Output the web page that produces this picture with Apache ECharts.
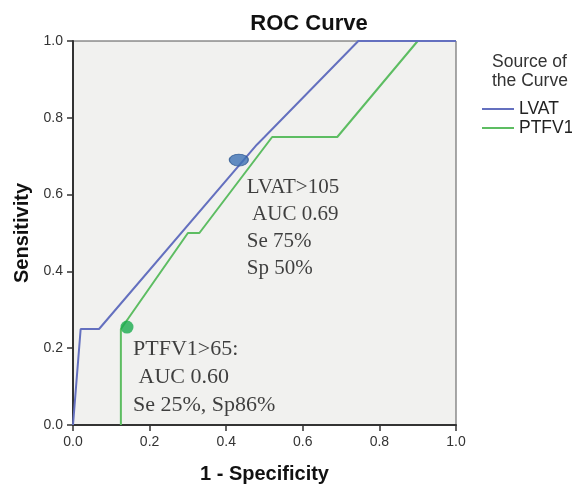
<!DOCTYPE html>
<html>
<head>
<meta charset="utf-8">
<script src="https://cdn.jsdelivr.net/npm/echarts@6/dist/echarts.min.js"></script>
<style>html,body{margin:0;padding:0;background:#fff;}</style>
</head>
<body>
<div id="roc_con" style="width:572px;height:485px;"></div>
<script>
    // ROC points: [1 - specificity, sensitivity]
    var lvat = [[0, 0], [0.02, 0.25], [0.068, 0.25], [0.48, 0.73], [0.5, 0.75], [0.745, 1.0], [1, 1]];
    var ptfv1 = [[0.125, 0], [0.125, 0.25], [0.3, 0.5], [0.33, 0.5], [0.52, 0.75], [0.69, 0.75], [0.9, 1.0], [1, 1]];
    var lvatCut = [[0.433, 0.69]];
    var ptfvCut = [[0.141, 0.255]];

    var chart = echarts.init(document.getElementById('roc_con'));
    var serif = '"Liberation Serif", "DejaVu Serif", serif';
    var sans = '"Liberation Sans", Arial, sans-serif';

    var option = {
        animation: false,
        title: [
            {
                text: 'ROC Curve', left: 304, top: 8, textAlign: 'center',
                textStyle: { fontFamily: sans, fontSize: 22, fontWeight: 'bold', color: '#111' }
            },
            {
                text: 'Source of\nthe Curve', left: 487, top: 48,
                textStyle: { fontFamily: sans, fontSize: 17.5, fontWeight: 'normal', color: '#333', lineHeight: 19 }
            }
        ],
        legend: {
            orient: 'vertical', left: 477, top: 95, itemGap: 1,
            itemWidth: 32, itemHeight: 2, icon: 'rect',
            textStyle: { fontFamily: sans, fontSize: 17.5, color: '#222', lineHeight: 17 },
            data: ['LVAT', 'PTFV1']
        },
        grid: {
            left: 73, right: 116, top: 41, bottom: 60, outerBoundsMode: 'none',
            show: true, backgroundColor: '#f1f1ef', borderColor: '#555', borderWidth: 1
        },
        xAxis: {
            type: 'value', min: 0, max: 1, interval: 0.2,
            name: '1 - Specificity', nameLocation: 'middle', nameGap: 39,
            nameTextStyle: { fontFamily: sans, fontSize: 20, fontWeight: 'bold', color: '#111' },
            axisLine: { show: true, lineStyle: { color: '#333', width: 2 } },
            axisTick: { show: true, length: 6, lineStyle: { color: '#333', width: 1.5 } },
            axisLabel: { fontFamily: sans, fontSize: 14, color: '#333', margin: 10,
                formatter: function (v) { return v.toFixed(1); } },
            splitLine: { show: false }
        },
        yAxis: {
            type: 'value', min: 0, max: 1, interval: 0.2,
            name: 'Sensitivity', nameLocation: 'middle', nameGap: 41,
            nameTextStyle: { fontFamily: sans, fontSize: 20, fontWeight: 'bold', color: '#111' },
            axisLine: { show: true, lineStyle: { color: '#333', width: 2 } },
            axisTick: { show: true, length: 6, lineStyle: { color: '#333', width: 1.5 } },
            axisLabel: { fontFamily: sans, fontSize: 14, color: '#333', margin: 10,
                formatter: function (v) { return v.toFixed(1); } },
            splitLine: { show: false }
        },
        series: [
            {
                name: 'LVAT', type: 'line', data: lvat, symbol: 'none',
                lineStyle: { color: '#6470bf', width: 2 }, itemStyle: { color: '#6470bf' }, z: 3
            },
            {
                name: 'PTFV1', type: 'line', data: ptfv1, symbol: 'none',
                lineStyle: { color: '#5dbd62', width: 2 }, itemStyle: { color: '#5dbd62' }, z: 2
            },
            {
                name: 'LVAT cut', type: 'scatter', data: lvatCut, symbol: 'circle', symbolSize: [19, 12],
                itemStyle: { color: '#3d72b4', borderColor: '#2c5690', borderWidth: 1 }, z: 5,
                label: {
                    show: true, position: 'bottom', distance: 8, align: 'left', offset: [8, 0],
                    fontFamily: serif, fontSize: 21, color: '#111', lineHeight: 27,
                    formatter: 'LVAT>105\n AUC 0.69\nSe 75%\nSp 50%'
                }
            },
            {
                name: 'PTFV1 cut', type: 'scatter', data: ptfvCut, symbol: 'circle', symbolSize: 13,
                itemStyle: { color: '#1aab4e' }, z: 5,
                label: {
                    show: true, position: 'bottom', distance: 2, align: 'left', offset: [6, 0],
                    fontFamily: serif, fontSize: 22, color: '#111', lineHeight: 28,
                    formatter: 'PTFV1>65:\n AUC 0.60\nSe 25%, Sp86%'
                }
            }
        ]
    };
    chart.setOption(option);
</script>
</body>
</html>
